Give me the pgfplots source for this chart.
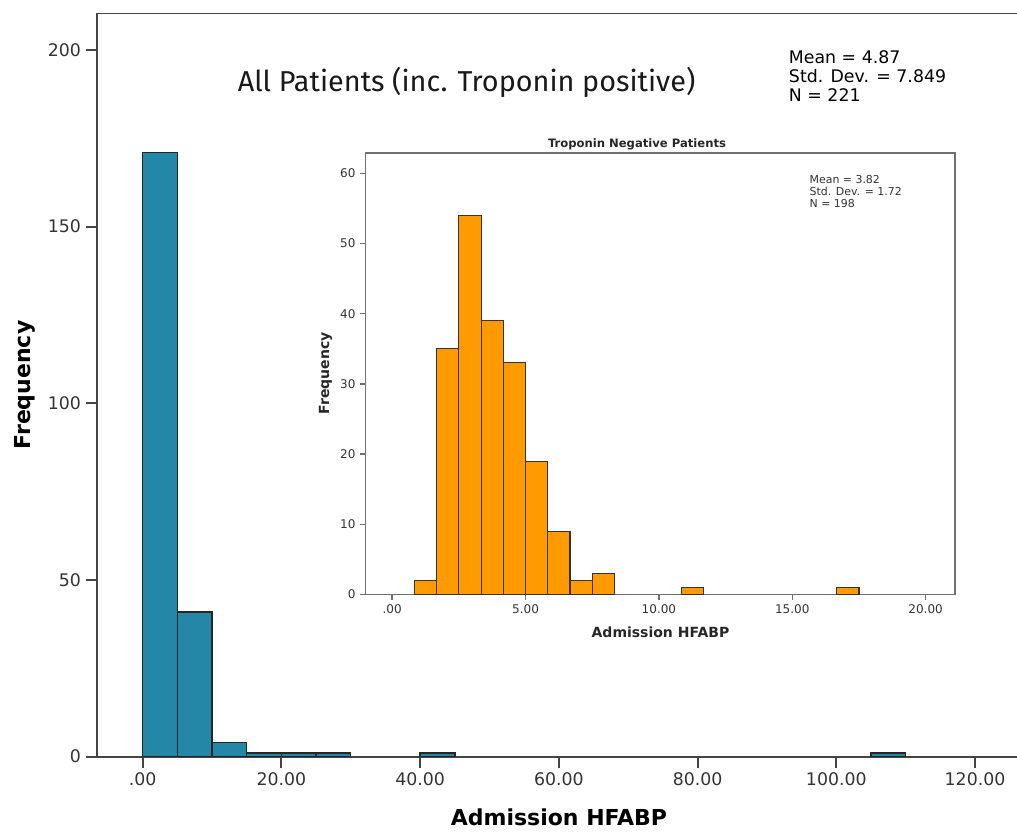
\documentclass[border=0pt]{standalone}
\usepackage{pgfplots}
\pgfplotsset{compat=1.18}
\usepackage{fontspec}
\setmainfont{DejaVu Sans}
\newfontfamily\titlefont{Fira Sans}
\definecolor{tealbar}{HTML}{2487A8}
\definecolor{orangebar}{HTML}{FF9A00}
\definecolor{spine}{HTML}{444444}
\definecolor{insetspine}{HTML}{707070}
\definecolor{ticktext}{HTML}{333333}

\begin{document}
\begin{tikzpicture}
% main histogram: all patients
\begin{axis}[
  at={(0pt,0pt)}, anchor=south west,
  scale only axis, width=690.2pt, height=557.5pt,
  xmin=-6.63, xmax=126.05, ymin=0, ymax=210.4,
  axis x line*=bottom, axis y line*=left,
  axis line style={-, spine, line width=1.5pt},
  tick align=outside, major tick length=8.25pt,
  tick style={spine, line width=1.5pt},
  xtick={0,20,...,120},
  xticklabels={.00,20.00,40.00,60.00,80.00,100.00,120.00},
  ytick={0,50,...,200},
  ticklabel style={font=\fontsize{13}{15}\selectfont, text=ticktext},
  /pgf/number format/assume math mode=true,
]
\addplot[ybar, bar width=5, bar shift=0, fill=tealbar, draw=black!85, line width=1.1pt]
  coordinates {(2.5,171) (7.5,41) (12.5,4) (17.5,1) (22.5,1) (27.5,1) (42.5,1) (107.5,1)};
\draw[spine, line width=1.5pt] (rel axis cs:0,1) -- (rel axis cs:1,1);
\end{axis}

% inset: troponin negative patients
\begin{axis}[
  at={(201.6pt,121.6pt)}, anchor=south west,
  scale only axis, width=442.1pt, height=331.1pt,
  xmin=-1, xmax=21.1, ymin=0, ymax=62.9,
  axis background/.style={fill=white},
  axis line style={insetspine, line width=1.1pt},
  tick align=outside, major tick length=4pt,
  tick style={insetspine, line width=1.1pt},
  xtick pos=bottom, ytick pos=left,
  xtick={0,5,10,15,20},
  xticklabels={.00,5.00,10.00,15.00,20.00},
  ytick={0,10,...,60},
  ticklabel style={font=\fontsize{9}{11}\selectfont, text=ticktext},
  /pgf/number format/assume math mode=true,
]
\addplot[ybar, bar width=0.8333, bar shift=0, fill=orangebar, draw=black!80, line width=0.8pt]
  coordinates {(1.25,2) (2.0833,35) (2.9167,54) (3.75,39) (4.5833,33) (5.4167,19)
               (6.25,9) (7.0833,2) (7.9167,3) (11.25,1) (17.0833,1)};
\end{axis}

% titles, labels and statistics
\node[anchor=base, font=\titlefont\fontsize{21.6}{26}\selectfont, text=black!90] at (277.4pt,498.5pt) {All Patients (inc. Troponin positive)};
\node[anchor=base west, inner sep=0pt, font=\fontsize{13}{15}\selectfont] at (519pt,520pt) {Mean = 4.87};
\node[anchor=base west, inner sep=0pt, font=\fontsize{13}{15}\selectfont] at (519pt,505.6pt) {Std. Dev. = 7.849};
\node[anchor=base west, inner sep=0pt, font=\fontsize{13}{15}\selectfont] at (519pt,491.2pt) {N = 221};
\node[rotate=90, font=\bfseries\fontsize{16.5}{19}\selectfont] at (-54pt,278.7pt) {Frequency};
\node[anchor=base, font=\bfseries\fontsize{16.5}{19}\selectfont] at (346.7pt,-52pt) {Admission HFABP};

\node[anchor=base, font=\bfseries\fontsize{8.7}{10}\selectfont, text=black!85] at (405.2pt,457.2pt) {Troponin Negative Patients};
\node[anchor=base west, inner sep=0pt, font=\fontsize{8.2}{10}\selectfont, text=black!80] at (534.5pt,429.5pt) {Mean = 3.82};
\node[anchor=base west, inner sep=0pt, font=\fontsize{8.2}{10}\selectfont, text=black!80] at (534.5pt,420.5pt) {Std. Dev. = 1.72};
\node[anchor=base west, inner sep=0pt, font=\fontsize{8.2}{10}\selectfont, text=black!80] at (534.5pt,411.5pt) {N = 198};
\node[rotate=90, font=\bfseries\fontsize{10.5}{12}\selectfont, text=black!85] at (171.6pt,287.3pt) {Frequency};
\node[anchor=base, font=\bfseries\fontsize{10.5}{12}\selectfont, text=black!85] at (422.8pt,89.7pt) {Admission HFABP};

\pgfresetboundingbox
\path[use as bounding box] (-72.5pt,-58.8pt) rectangle (690.2pt,567.45pt);
\end{tikzpicture}
\end{document}
